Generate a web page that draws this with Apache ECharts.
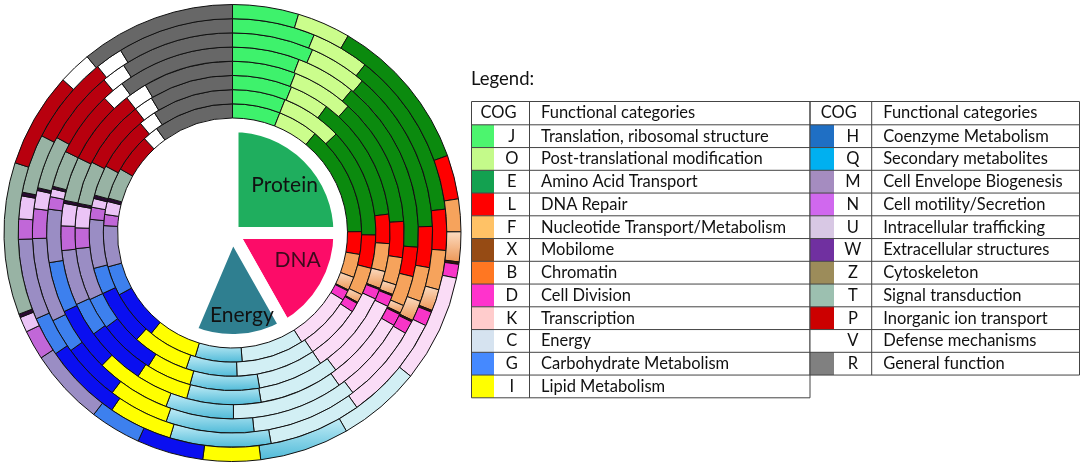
<!DOCTYPE html>
<html><head><meta charset="utf-8">
<script src="https://cdn.jsdelivr.net/npm/echarts@6/dist/echarts.min.js"></script>
<style>html,body{margin:0;padding:0;background:#fff}#c{width:1084px;height:466px}</style>
</head><body><div id="c"></div>
<script>
// COG categories in ring order (clockwise from 12 o'clock)
const cogOrder = ['J','O','E','L','F','B','X','D','K','C','Q','I','H','G','M','N','U','W','T','P','V','R'];
// share of each COG category per genome ring (relative units, innermost ring first)
const ring1 = [21.5,18.2,49.7,10.2,10.5,6.1,0.5,4.5,26.4,28.1,21.1,22.2,22.4,13.4,18.5,5.0,5.9,1.5,14.0,17.3,7.0,36.0];
const ring2 = [21.5,24.8,44.5,13.5,11.2,3.5,0.5,3.8,22.7,32.2,20.7,23.1,23.0,10.7,19.8,4.9,3.6,1.4,12.4,22.2,7.0,33.0];
const ring3 = [22.0,14.6,46.5,10.8,10.3,6.4,0.5,3.7,31.2,24.1,25.6,16.6,21.0,11.7,19.3,7.6,8.0,1.0,15.8,25.3,7.0,31.0];
const ring4 = [21.5,20.9,43.7,12.2,9.3,3.4,0.5,3.8,27.7,27.4,25.1,17.9,20.6,11.4,18.7,8.3,7.6,1.0,15.0,26.0,7.5,30.5];
const ring5 = [21.0,18.8,54.6,9.2,9.4,2.5,0.5,3.8,25.2,34.7,21.3,23.6,20.4,15.8,16.6,3.9,2.5,0.8,11.4,20.5,7.0,36.5];
const ring6 = [23.6,16.9,47.6,11.9,10.0,5.9,0.5,3.7,22.9,30.8,25.6,17.6,17.0,10.0,24.4,8.6,5.3,0.8,15.4,21.5,7.0,33.0];
const ring7 = [22.4,15.8,45.4,11.1,10.7,5.8,0.5,3.9,28.9,25.1,27.4,17.3,21.4,10.7,21.9,5.5,6.2,1.0,16.0,24.0,7.5,31.5];
const ring8 = [16.8,13.6,39.8,11.2,8.3,7.6,0.6,3.5,27.4,21.3,22.8,14.6,16.9,13.0,19.5,7.5,3.9,0.9,38.7,24.2,8.4,39.5];
const rings = [ring1, ring2, ring3, ring4, ring5, ring6, ring7, ring8];

// centre summary
const centerNames = ['Protein','DNA','Energy'];
const centerValues = [90, 60.5, 52.5];
const centerRest = 157;

// legend tables
const legendLeftCodes = ['J','O','E','L','F','X','B','D','K','C','G','I'];
const legendLeftNames = ['Translation, ribosomal structure','Post-translational modification','Amino Acid Transport','DNA Repair','Nucleotide Transport/Metabolism','Mobilome','Chromatin','Cell Division','Transcription','Energy','Carbohydrate Metabolism','Lipid Metabolism'];
const legendRightCodes = ['H','Q','M','N','U','W','Z','T','P','V','R'];
const legendRightNames = ['Coenzyme Metabolism','Secondary metabolites','Cell Envelope Biogenesis','Cell motility/Secretion','Intracellular trafficking','Extracellular structures','Cytoskeleton','Signal transduction','Inorganic ion transport','Defense mechanisms','General function'];

// styling
const grad = (a, b) => ({type:'linear', x:0, y:0, x2:0, y2:1, colorStops:[{offset:0,color:a},{offset:1,color:b}]});
const ringColor = {
  J:'#3ef26c', O:'#cbfd8c', E:'#0b8a0e', L:'#fe0000', F:'#f6a35c', B:grad('#fcdcc2','#ec9655'),
  X:'#3a140a', D:'#f835c8', K:'#fadcf6', C:'#d2eff4', Q:grad('#c3edf7','#4fbad8'), I:'#ffff00',
  H:'#0a0ff0', G:'#3d80ee', M:'#9a8dc4', N:'#c167d8', U:'#ebc4f6', W:'#2b0b33', T:'#98b3a4',
  P:'#b8000e', V:'#ffffff', R:'#676767'
};
const swatch = {
  J:'#4cf56e', O:'#c4fa8a', E:'#13a150', L:'#ff0000', F:'#ffc266', X:'#964b14', B:'#ff7722',
  D:'#ff33cc', K:'#ffcccc', C:'#d6e3f0', G:'#4589ff', I:'#ffff00',
  H:'#1f6fc4', Q:'#00b0f0', M:'#a58cc0', N:'#d068ee', U:'#d8c8e4', W:'#7030a0', Z:'#9c8c5a',
  T:'#9cc0b0', P:'#cc0000', V:'#ffffff', R:'#808080'
};
const centerColors = ['#1fae5e','#fc0c68','#2f7f90'];
const centerTextColors = ['#111','#3d0a1c','#111'];
const centerLabelShift = [[-2, 6], [-1, -11], [5, 6]];

const CX = 232.5, CY = 233, R0 = 115, R1 = 228.5;
const W = (R1 - R0) / rings.length;
const FONT = 'Lato';

const series = rings.map((vals, i) => ({
  type:'pie', center:[CX, CY], radius:[R0 + i*W, R0 + (i+1)*W],
  startAngle:90, clockwise:true, silent:true, label:{show:false}, labelLine:{show:false},
  itemStyle:{borderColor:'#111', borderWidth:1},
  data: vals.map((v, k) => ({name:cogOrder[k], value:v, itemStyle:{color:ringColor[cogOrder[k]]}}))
}));

const centerData = centerNames.map((n, k) => ({name:n, value:centerValues[k]}));
series.push({
  type:'pie', center:[CX, CY], radius:[0, 107], startAngle:90, silent:true,
  label:{show:false}, labelLine:{show:false},
  data: centerData.map((d, k) => ({...d, itemStyle:{color:centerColors[k], borderColor:'#fff', borderWidth:12}}))
    .concat([{name:'rest', value:centerRest, itemStyle:{color:'rgba(0,0,0,0)', borderWidth:0}}])
});
series.push({
  type:'pie', center:[CX, CY], radius:[40, 107], startAngle:90, silent:true,
  itemStyle:{color:'rgba(0,0,0,0)'}, labelLine:{show:false},
  label:{show:true, position:'inside', fontFamily:FONT, fontSize:21},
  labelLayout: p => (p.dataIndex < 3 ? {dx:centerLabelShift[p.dataIndex][0], dy:centerLabelShift[p.dataIndex][1]} : {}),
  data: centerData.map((d, k) => ({...d, label:{color:centerTextColors[k]}}))
    .concat([{name:'', value:centerRest, label:{show:false}}])
});

// legend table graphics
const graphics = [];
const TOP = 101.5, HEAD = 23.3, ROW = 22.75, FS = 16.5;
graphics.push({type:'text', left:471, top:70, style:{text:'Legend:', font:`18.5px ${FONT}`, fill:'#111'}});
function table(x0, swW, letW, width, codes, names) {
  const h = HEAD + codes.length * ROW;
  codes.forEach((c, i) => {
    const y = TOP + HEAD + i*ROW;
    graphics.push({type:'rect', shape:{x:x0, y:y, width:swW, height:ROW}, style:{fill:swatch[c]}});
    graphics.push({type:'text', x:x0 + swW + letW/2, y:y + ROW/2, style:{text:c, font:`${FS}px ${FONT}`, fill:'#111', align:'center', verticalAlign:'middle'}});
    graphics.push({type:'text', x:x0 + swW + letW + 11.5, y:y + ROW/2, style:{text:names[i], font:`${FS}px ${FONT}`, fill:'#111', align:'left', verticalAlign:'middle'}});
    graphics.push({type:'line', shape:{x1:x0, y1:y, x2:x0 + width, y2:y}, style:{stroke:'#444', lineWidth:1}});
  });
  graphics.push({type:'text', x:x0 + (swW + letW)/2 - 2, y:TOP + HEAD/2, style:{text:'COG', font:`${FS}px ${FONT}`, fill:'#111', align:'center', verticalAlign:'middle'}});
  graphics.push({type:'text', x:x0 + swW + letW + 11.5, y:TOP + HEAD/2, style:{text:'Functional categories', font:`${FS}px ${FONT}`, fill:'#111', align:'left', verticalAlign:'middle'}});
  graphics.push({type:'line', shape:{x1:x0 + swW + letW, y1:TOP, x2:x0 + swW + letW, y2:TOP + h}, style:{stroke:'#444', lineWidth:1}});
  graphics.push({type:'rect', shape:{x:x0, y:TOP, width:width, height:h}, style:{fill:'none', stroke:'#444', lineWidth:1}});
}
table(471.5, 22.5, 35.5, 338.5, legendLeftCodes, legendLeftNames);
table(810, 24, 37.7, 269.5, legendRightCodes, legendRightNames);

const chart = echarts.init(document.getElementById('c'), null, {renderer:'canvas'});
chart.setOption({animation:false, backgroundColor:'#fff', series:series, graphic:graphics});
</script></body></html>
